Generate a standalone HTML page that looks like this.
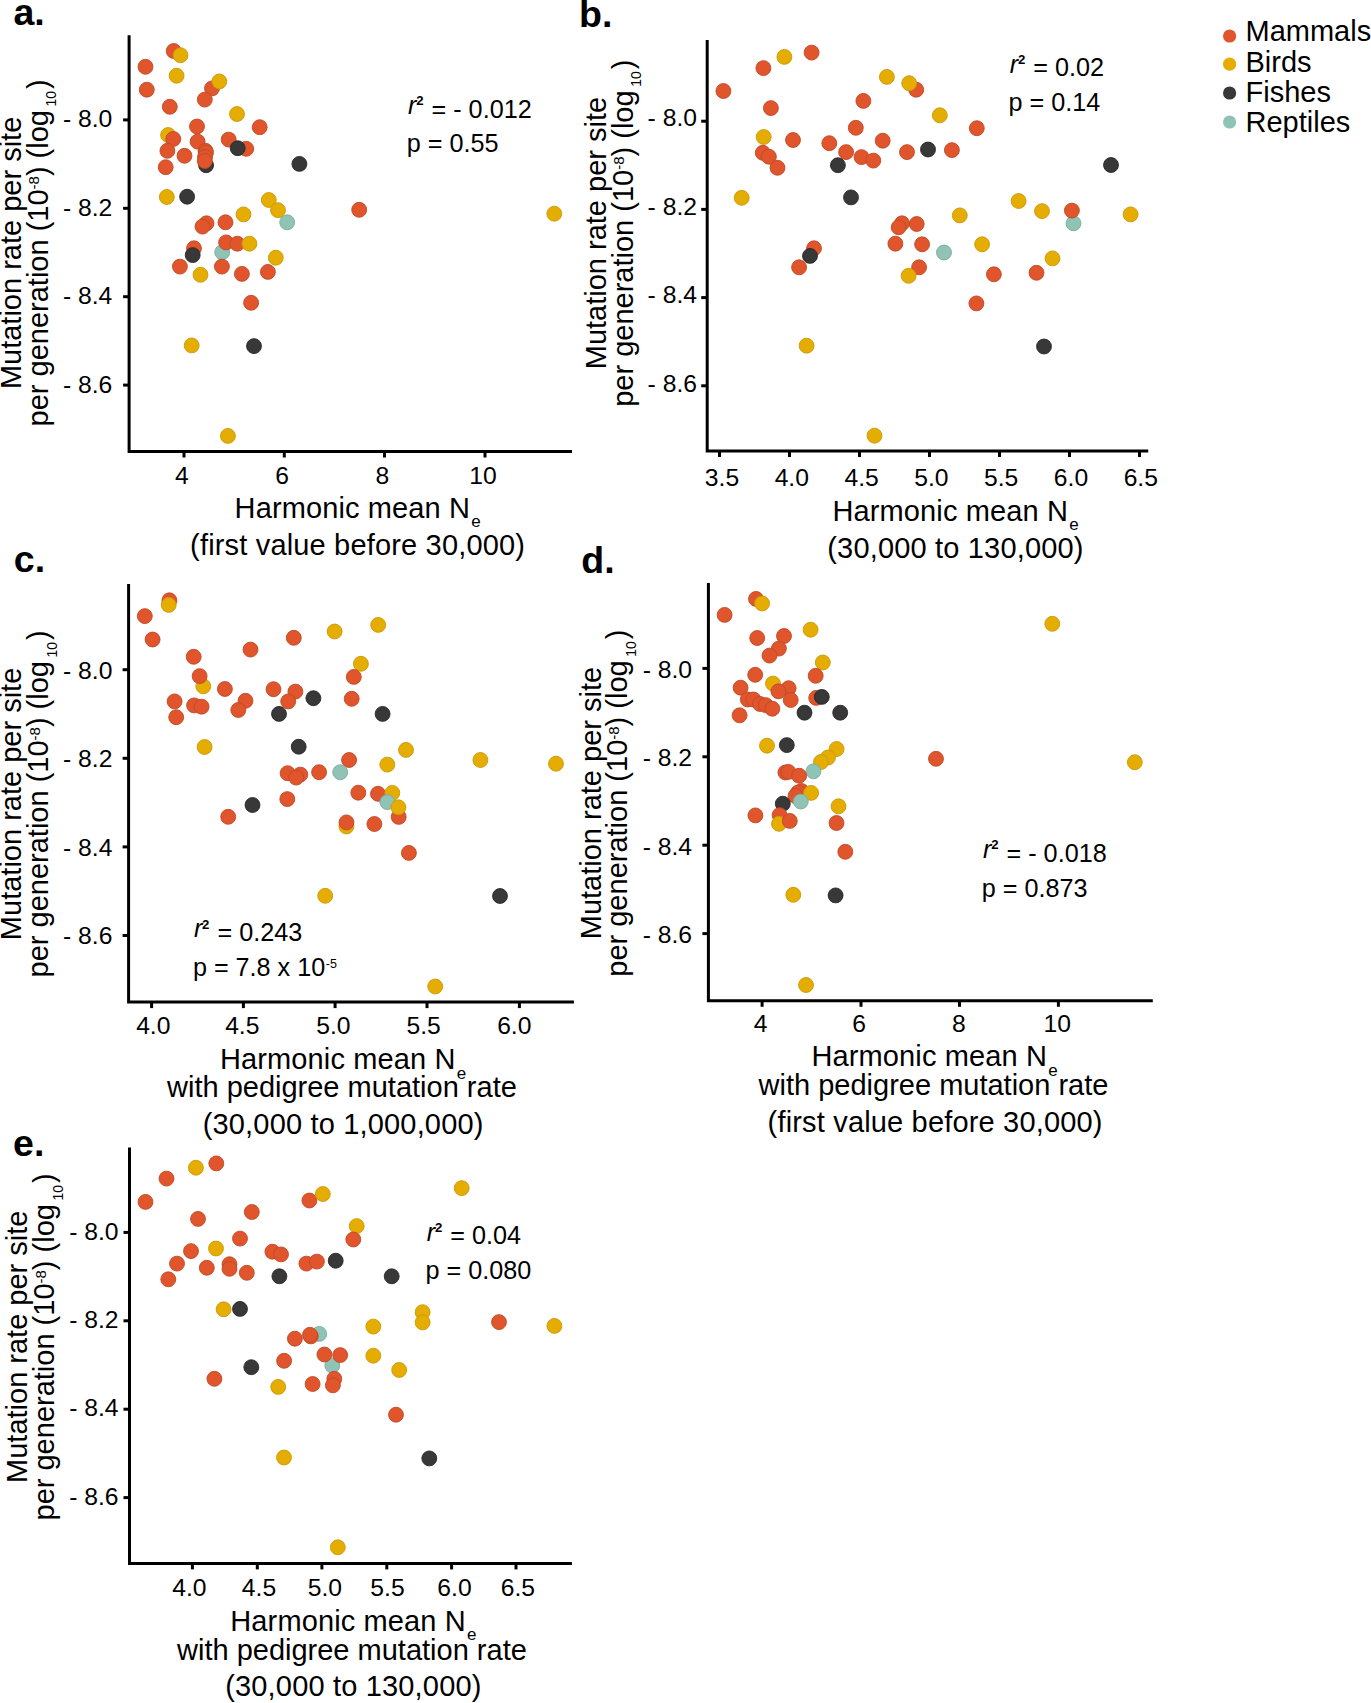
<!DOCTYPE html><html><head><meta charset="utf-8"><style>html,body{margin:0;padding:0;background:#fff;width:1371px;height:1703px;overflow:hidden}svg{display:block}text{font-family:"Liberation Sans",sans-serif;fill:#000}</style></head><body>
<svg width="1371" height="1703" viewBox="0 0 1371 1703">
<rect width="1371" height="1703" fill="#fff"/>
<circle cx="173.7" cy="51" r="7.45" fill="#e0552b" stroke="#c04827" stroke-width="0.9"/>
<circle cx="180.5" cy="55.2" r="7.45" fill="#e5ad02" stroke="#c99806" stroke-width="0.9"/>
<circle cx="145.5" cy="66.8" r="7.45" fill="#e0552b" stroke="#c04827" stroke-width="0.9"/>
<circle cx="176.6" cy="75.7" r="7.45" fill="#e5ad02" stroke="#c99806" stroke-width="0.9"/>
<circle cx="146.8" cy="89.7" r="7.45" fill="#e0552b" stroke="#c04827" stroke-width="0.9"/>
<circle cx="212" cy="88.4" r="7.45" fill="#e0552b" stroke="#c04827" stroke-width="0.9"/>
<circle cx="219.3" cy="81.5" r="7.45" fill="#e5ad02" stroke="#c99806" stroke-width="0.9"/>
<circle cx="204.8" cy="99.6" r="7.45" fill="#e0552b" stroke="#c04827" stroke-width="0.9"/>
<circle cx="169.8" cy="106.8" r="7.45" fill="#e0552b" stroke="#c04827" stroke-width="0.9"/>
<circle cx="237" cy="114" r="7.45" fill="#e5ad02" stroke="#c99806" stroke-width="0.9"/>
<circle cx="197" cy="126.5" r="7.45" fill="#e0552b" stroke="#c04827" stroke-width="0.9"/>
<circle cx="259.7" cy="127.2" r="7.45" fill="#e0552b" stroke="#c04827" stroke-width="0.9"/>
<circle cx="168.1" cy="135" r="7.45" fill="#e5ad02" stroke="#c99806" stroke-width="0.9"/>
<circle cx="173.3" cy="139" r="7.45" fill="#e0552b" stroke="#c04827" stroke-width="0.9"/>
<circle cx="167.4" cy="150.8" r="7.45" fill="#e0552b" stroke="#c04827" stroke-width="0.9"/>
<circle cx="184.5" cy="155.8" r="7.45" fill="#e0552b" stroke="#c04827" stroke-width="0.9"/>
<circle cx="165.7" cy="167.2" r="7.45" fill="#e0552b" stroke="#c04827" stroke-width="0.9"/>
<circle cx="197.6" cy="141.6" r="7.45" fill="#e0552b" stroke="#c04827" stroke-width="0.9"/>
<circle cx="206.1" cy="165.2" r="7.45" fill="#383838" stroke="#282828" stroke-width="0.9"/>
<circle cx="205.5" cy="150.8" r="7.45" fill="#e0552b" stroke="#c04827" stroke-width="0.9"/>
<circle cx="206" cy="152.5" r="7.45" fill="#e0552b" stroke="#c04827" stroke-width="0.9"/>
<circle cx="205" cy="157" r="7.45" fill="#e0552b" stroke="#c04827" stroke-width="0.9"/>
<circle cx="204.8" cy="161" r="7.45" fill="#e0552b" stroke="#c04827" stroke-width="0.9"/>
<circle cx="228.7" cy="139.6" r="7.45" fill="#e0552b" stroke="#c04827" stroke-width="0.9"/>
<circle cx="246.2" cy="148.8" r="7.45" fill="#e0552b" stroke="#c04827" stroke-width="0.9"/>
<circle cx="237.7" cy="148.2" r="7.45" fill="#383838" stroke="#282828" stroke-width="0.9"/>
<circle cx="299.4" cy="163.9" r="7.45" fill="#383838" stroke="#282828" stroke-width="0.9"/>
<circle cx="166.8" cy="197" r="7.45" fill="#e5ad02" stroke="#c99806" stroke-width="0.9"/>
<circle cx="187.1" cy="196.7" r="7.45" fill="#383838" stroke="#282828" stroke-width="0.9"/>
<circle cx="268.8" cy="200" r="7.45" fill="#e5ad02" stroke="#c99806" stroke-width="0.9"/>
<circle cx="278" cy="210.2" r="7.45" fill="#e5ad02" stroke="#c99806" stroke-width="0.9"/>
<circle cx="287.2" cy="222.3" r="7.45" fill="#8fc3b6" stroke="#78ab9e" stroke-width="0.9"/>
<circle cx="243.5" cy="214.4" r="7.45" fill="#e5ad02" stroke="#c99806" stroke-width="0.9"/>
<circle cx="206.5" cy="223.3" r="7.45" fill="#e0552b" stroke="#c04827" stroke-width="0.9"/>
<circle cx="202.5" cy="226.6" r="7.45" fill="#e0552b" stroke="#c04827" stroke-width="0.9"/>
<circle cx="225.5" cy="222.3" r="7.45" fill="#e0552b" stroke="#c04827" stroke-width="0.9"/>
<circle cx="222.2" cy="252.2" r="7.45" fill="#8fc3b6" stroke="#78ab9e" stroke-width="0.9"/>
<circle cx="226.1" cy="242.4" r="7.45" fill="#e0552b" stroke="#c04827" stroke-width="0.9"/>
<circle cx="237.3" cy="243.7" r="7.45" fill="#e0552b" stroke="#c04827" stroke-width="0.9"/>
<circle cx="249.4" cy="243.7" r="7.45" fill="#e5ad02" stroke="#c99806" stroke-width="0.9"/>
<circle cx="194" cy="248.3" r="7.45" fill="#e0552b" stroke="#c04827" stroke-width="0.9"/>
<circle cx="192.7" cy="255.1" r="7.45" fill="#383838" stroke="#282828" stroke-width="0.9"/>
<circle cx="179.9" cy="266.6" r="7.45" fill="#e0552b" stroke="#c04827" stroke-width="0.9"/>
<circle cx="200.5" cy="274.8" r="7.45" fill="#e5ad02" stroke="#c99806" stroke-width="0.9"/>
<circle cx="221.9" cy="266.6" r="7.45" fill="#e0552b" stroke="#c04827" stroke-width="0.9"/>
<circle cx="241.9" cy="273.9" r="7.45" fill="#e0552b" stroke="#c04827" stroke-width="0.9"/>
<circle cx="267.9" cy="271.9" r="7.45" fill="#e0552b" stroke="#c04827" stroke-width="0.9"/>
<circle cx="275.8" cy="257.7" r="7.45" fill="#e5ad02" stroke="#c99806" stroke-width="0.9"/>
<circle cx="251.1" cy="302.8" r="7.45" fill="#e0552b" stroke="#c04827" stroke-width="0.9"/>
<circle cx="191.7" cy="345.4" r="7.45" fill="#e5ad02" stroke="#c99806" stroke-width="0.9"/>
<circle cx="254" cy="346.1" r="7.45" fill="#383838" stroke="#282828" stroke-width="0.9"/>
<circle cx="227.9" cy="435.9" r="7.45" fill="#e5ad02" stroke="#c99806" stroke-width="0.9"/>
<circle cx="359.2" cy="209.8" r="7.45" fill="#e0552b" stroke="#c04827" stroke-width="0.9"/>
<circle cx="554.3" cy="213.7" r="7.45" fill="#e5ad02" stroke="#c99806" stroke-width="0.9"/>
<path d="M129.1 35.2V451.5H572" fill="none" stroke="#000" stroke-width="3" stroke-linejoin="miter" stroke-linecap="butt"/>
<line x1="123.1" y1="119.9" x2="129.1" y2="119.9" stroke="#000" stroke-width="3"/>
<text x="112.3" y="127.4" font-size="24.7" text-anchor="end">- 8.0</text>
<line x1="123.1" y1="208.3" x2="129.1" y2="208.3" stroke="#000" stroke-width="3"/>
<text x="112.3" y="215.8" font-size="24.7" text-anchor="end">- 8.2</text>
<line x1="123.1" y1="296.7" x2="129.1" y2="296.7" stroke="#000" stroke-width="3"/>
<text x="112.3" y="304.2" font-size="24.7" text-anchor="end">- 8.4</text>
<line x1="123.1" y1="385.1" x2="129.1" y2="385.1" stroke="#000" stroke-width="3"/>
<text x="112.3" y="392.6" font-size="24.7" text-anchor="end">- 8.6</text>
<line x1="184" y1="451.5" x2="184" y2="457.5" stroke="#000" stroke-width="3"/>
<text x="181.9" y="483.5" font-size="24.7" text-anchor="middle">4</text>
<line x1="284.3" y1="451.5" x2="284.3" y2="457.5" stroke="#000" stroke-width="3"/>
<text x="282.0" y="483.5" font-size="24.7" text-anchor="middle">6</text>
<line x1="384.5" y1="451.5" x2="384.5" y2="457.5" stroke="#000" stroke-width="3"/>
<text x="382.3" y="483.5" font-size="24.7" text-anchor="middle">8</text>
<line x1="485" y1="451.5" x2="485" y2="457.5" stroke="#000" stroke-width="3"/>
<text x="483.0" y="483.5" font-size="24.7" text-anchor="middle">10</text>
<text x="234.6" y="517.8" font-size="29" letter-spacing="0.12">Harmonic mean N<tspan font-size="17" dx="1.2" dy="9.6">e</tspan></text>
<text x="190.1" y="555.0" font-size="29" letter-spacing="0.17">(first value before 30,000)</text>
<text transform="translate(20.9,252.9) rotate(-90)" font-size="29" text-anchor="middle">Mutation rate per site</text>
<text transform="translate(47.9,252.85) rotate(-90)" font-size="29" text-anchor="middle">per generation (10<tspan font-size="15" dy="-8.5">-8</tspan><tspan dy="8.5">) (log</tspan><tspan font-size="14" dx="3.5" dy="8.5">10</tspan><tspan dx="2" dy="-8.5">)</tspan></text>
<text x="408.0" y="117.6" font-size="25.2"><tspan font-style="italic" dy="-3.6">r</tspan><tspan font-size="13.2" font-weight="bold" dx="-0.2" dy="-8.6">2</tspan><tspan dx="1.0" dy="12.2"> = - 0.012</tspan></text>
<text x="406.8" y="152.3" font-size="25.2">p = 0.55</text>
<text x="13.4" y="25.3" font-size="37.5" font-weight="bold">a.</text>
<circle cx="723.4" cy="91" r="7.45" fill="#e0552b" stroke="#c04827" stroke-width="0.9"/>
<circle cx="763.4" cy="68.1" r="7.45" fill="#e0552b" stroke="#c04827" stroke-width="0.9"/>
<circle cx="784.4" cy="56.9" r="7.45" fill="#e5ad02" stroke="#c99806" stroke-width="0.9"/>
<circle cx="811.6" cy="52.6" r="7.45" fill="#e0552b" stroke="#c04827" stroke-width="0.9"/>
<circle cx="770.9" cy="108.1" r="7.45" fill="#e0552b" stroke="#c04827" stroke-width="0.9"/>
<circle cx="863.4" cy="100.9" r="7.45" fill="#e0552b" stroke="#c04827" stroke-width="0.9"/>
<circle cx="855.8" cy="127.8" r="7.45" fill="#e0552b" stroke="#c04827" stroke-width="0.9"/>
<circle cx="763.7" cy="137" r="7.45" fill="#e5ad02" stroke="#c99806" stroke-width="0.9"/>
<circle cx="793" cy="140" r="7.45" fill="#e0552b" stroke="#c04827" stroke-width="0.9"/>
<circle cx="829.3" cy="143.2" r="7.45" fill="#e0552b" stroke="#c04827" stroke-width="0.9"/>
<circle cx="846.1" cy="152.1" r="7.45" fill="#e0552b" stroke="#c04827" stroke-width="0.9"/>
<circle cx="861.5" cy="157.1" r="7.45" fill="#e0552b" stroke="#c04827" stroke-width="0.9"/>
<circle cx="873.3" cy="160.6" r="7.45" fill="#e0552b" stroke="#c04827" stroke-width="0.9"/>
<circle cx="762.8" cy="152.8" r="7.45" fill="#e0552b" stroke="#c04827" stroke-width="0.9"/>
<circle cx="768.9" cy="156.7" r="7.45" fill="#e0552b" stroke="#c04827" stroke-width="0.9"/>
<circle cx="777.5" cy="167.8" r="7.45" fill="#e0552b" stroke="#c04827" stroke-width="0.9"/>
<circle cx="837.9" cy="165.2" r="7.45" fill="#383838" stroke="#282828" stroke-width="0.9"/>
<circle cx="741.7" cy="197.8" r="7.45" fill="#e5ad02" stroke="#c99806" stroke-width="0.9"/>
<circle cx="851" cy="197.4" r="7.45" fill="#383838" stroke="#282828" stroke-width="0.9"/>
<circle cx="886.9" cy="76.9" r="7.45" fill="#e5ad02" stroke="#c99806" stroke-width="0.9"/>
<circle cx="916.2" cy="89.7" r="7.45" fill="#e0552b" stroke="#c04827" stroke-width="0.9"/>
<circle cx="909.2" cy="83.2" r="7.45" fill="#e5ad02" stroke="#c99806" stroke-width="0.9"/>
<circle cx="939.8" cy="115.3" r="7.45" fill="#e5ad02" stroke="#c99806" stroke-width="0.9"/>
<circle cx="976.8" cy="128.2" r="7.45" fill="#e0552b" stroke="#c04827" stroke-width="0.9"/>
<circle cx="882.7" cy="140.7" r="7.45" fill="#e0552b" stroke="#c04827" stroke-width="0.9"/>
<circle cx="907" cy="152.1" r="7.45" fill="#e0552b" stroke="#c04827" stroke-width="0.9"/>
<circle cx="928" cy="149.5" r="7.45" fill="#383838" stroke="#282828" stroke-width="0.9"/>
<circle cx="951.9" cy="150.1" r="7.45" fill="#e0552b" stroke="#c04827" stroke-width="0.9"/>
<circle cx="1111" cy="165" r="7.45" fill="#383838" stroke="#282828" stroke-width="0.9"/>
<circle cx="1018.6" cy="201" r="7.45" fill="#e5ad02" stroke="#c99806" stroke-width="0.9"/>
<circle cx="1042" cy="211.1" r="7.45" fill="#e5ad02" stroke="#c99806" stroke-width="0.9"/>
<circle cx="1073.5" cy="223.3" r="7.45" fill="#8fc3b6" stroke="#78ab9e" stroke-width="0.9"/>
<circle cx="1071.9" cy="210.6" r="7.45" fill="#e0552b" stroke="#c04827" stroke-width="0.9"/>
<circle cx="1130.6" cy="214.4" r="7.45" fill="#e5ad02" stroke="#c99806" stroke-width="0.9"/>
<circle cx="1052.5" cy="258.4" r="7.45" fill="#e5ad02" stroke="#c99806" stroke-width="0.9"/>
<circle cx="1036.5" cy="272.8" r="7.45" fill="#e0552b" stroke="#c04827" stroke-width="0.9"/>
<circle cx="1044" cy="346.5" r="7.45" fill="#383838" stroke="#282828" stroke-width="0.9"/>
<circle cx="814" cy="248.3" r="7.45" fill="#e0552b" stroke="#c04827" stroke-width="0.9"/>
<circle cx="810" cy="255.9" r="7.45" fill="#383838" stroke="#282828" stroke-width="0.9"/>
<circle cx="799.1" cy="267.3" r="7.45" fill="#e0552b" stroke="#c04827" stroke-width="0.9"/>
<circle cx="806.6" cy="345.7" r="7.45" fill="#e5ad02" stroke="#c99806" stroke-width="0.9"/>
<circle cx="902" cy="223.3" r="7.45" fill="#e0552b" stroke="#c04827" stroke-width="0.9"/>
<circle cx="898.7" cy="227.3" r="7.45" fill="#e0552b" stroke="#c04827" stroke-width="0.9"/>
<circle cx="916.7" cy="224" r="7.45" fill="#e0552b" stroke="#c04827" stroke-width="0.9"/>
<circle cx="895.4" cy="243.7" r="7.45" fill="#e0552b" stroke="#c04827" stroke-width="0.9"/>
<circle cx="922.1" cy="244.3" r="7.45" fill="#e0552b" stroke="#c04827" stroke-width="0.9"/>
<circle cx="944" cy="252.5" r="7.45" fill="#8fc3b6" stroke="#78ab9e" stroke-width="0.9"/>
<circle cx="919.1" cy="267.3" r="7.45" fill="#e0552b" stroke="#c04827" stroke-width="0.9"/>
<circle cx="908.6" cy="275.8" r="7.45" fill="#e5ad02" stroke="#c99806" stroke-width="0.9"/>
<circle cx="959.8" cy="215.4" r="7.45" fill="#e5ad02" stroke="#c99806" stroke-width="0.9"/>
<circle cx="982.1" cy="244.3" r="7.45" fill="#e5ad02" stroke="#c99806" stroke-width="0.9"/>
<circle cx="993.9" cy="274.3" r="7.45" fill="#e0552b" stroke="#c04827" stroke-width="0.9"/>
<circle cx="976.4" cy="303.4" r="7.45" fill="#e0552b" stroke="#c04827" stroke-width="0.9"/>
<circle cx="874.5" cy="435.7" r="7.45" fill="#e5ad02" stroke="#c99806" stroke-width="0.9"/>
<path d="M707.2 39.9V451.0H1148.2" fill="none" stroke="#000" stroke-width="3" stroke-linejoin="miter" stroke-linecap="butt"/>
<line x1="701.2" y1="121.2" x2="707.2" y2="121.2" stroke="#000" stroke-width="3"/>
<text x="697" y="126.3" font-size="24.7" text-anchor="end">- 8.0</text>
<line x1="701.2" y1="209.4" x2="707.2" y2="209.4" stroke="#000" stroke-width="3"/>
<text x="697" y="214.7" font-size="24.7" text-anchor="end">- 8.2</text>
<line x1="701.2" y1="297.6" x2="707.2" y2="297.6" stroke="#000" stroke-width="3"/>
<text x="697" y="303.1" font-size="24.7" text-anchor="end">- 8.4</text>
<line x1="701.2" y1="385.8" x2="707.2" y2="385.8" stroke="#000" stroke-width="3"/>
<text x="697" y="391.5" font-size="24.7" text-anchor="end">- 8.6</text>
<line x1="719.5" y1="451.0" x2="719.5" y2="457.0" stroke="#000" stroke-width="3"/>
<text x="722.0" y="485.6" font-size="24.7" text-anchor="middle">3.5</text>
<line x1="789.5" y1="451.0" x2="789.5" y2="457.0" stroke="#000" stroke-width="3"/>
<text x="791.8" y="485.6" font-size="24.7" text-anchor="middle">4.0</text>
<line x1="859.5" y1="451.0" x2="859.5" y2="457.0" stroke="#000" stroke-width="3"/>
<text x="861.6" y="485.6" font-size="24.7" text-anchor="middle">4.5</text>
<line x1="929.5" y1="451.0" x2="929.5" y2="457.0" stroke="#000" stroke-width="3"/>
<text x="931.4" y="485.6" font-size="24.7" text-anchor="middle">5.0</text>
<line x1="999.5" y1="451.0" x2="999.5" y2="457.0" stroke="#000" stroke-width="3"/>
<text x="1001.2" y="485.6" font-size="24.7" text-anchor="middle">5.5</text>
<line x1="1069.5" y1="451.0" x2="1069.5" y2="457.0" stroke="#000" stroke-width="3"/>
<text x="1071.0" y="485.6" font-size="24.7" text-anchor="middle">6.0</text>
<line x1="1139.5" y1="451.0" x2="1139.5" y2="457.0" stroke="#000" stroke-width="3"/>
<text x="1140.8" y="485.6" font-size="24.7" text-anchor="middle">6.5</text>
<text x="832.5" y="520.5" font-size="29" letter-spacing="0.12">Harmonic mean N<tspan font-size="17" dx="1.2" dy="9.6">e</tspan></text>
<text x="827.3" y="558" font-size="29" letter-spacing="0.17">(30,000 to 130,000)</text>
<text transform="translate(605.5,233.05) rotate(-90)" font-size="29" text-anchor="middle">Mutation rate per site</text>
<text transform="translate(632.5,233.2) rotate(-90)" font-size="29" text-anchor="middle">per generation (10<tspan font-size="15" dy="-8.5">-8</tspan><tspan dy="8.5">) (log</tspan><tspan font-size="14" dx="3.5" dy="8.5">10</tspan><tspan dx="2" dy="-8.5">)</tspan></text>
<text x="1009.7" y="76.2" font-size="25.2"><tspan font-style="italic" dy="-3.6">r</tspan><tspan font-size="13.2" font-weight="bold" dx="-0.2" dy="-8.6">2</tspan><tspan dx="1.0" dy="12.2"> = 0.02</tspan></text>
<text x="1008.6" y="110.8" font-size="25.2">p = 0.14</text>
<text x="579.1" y="26.5" font-size="37.5" font-weight="bold">b.</text>
<circle cx="169.4" cy="600.3" r="7.45" fill="#e0552b" stroke="#c04827" stroke-width="0.9"/>
<circle cx="168.7" cy="604.9" r="7.45" fill="#e5ad02" stroke="#c99806" stroke-width="0.9"/>
<circle cx="144.8" cy="616.1" r="7.45" fill="#e0552b" stroke="#c04827" stroke-width="0.9"/>
<circle cx="152.6" cy="639.5" r="7.45" fill="#e0552b" stroke="#c04827" stroke-width="0.9"/>
<circle cx="193.7" cy="656.8" r="7.45" fill="#e0552b" stroke="#c04827" stroke-width="0.9"/>
<circle cx="250.5" cy="649.6" r="7.45" fill="#e0552b" stroke="#c04827" stroke-width="0.9"/>
<circle cx="293.8" cy="637.8" r="7.45" fill="#e0552b" stroke="#c04827" stroke-width="0.9"/>
<circle cx="203.3" cy="686.3" r="7.45" fill="#e5ad02" stroke="#c99806" stroke-width="0.9"/>
<circle cx="199.6" cy="676.1" r="7.45" fill="#e0552b" stroke="#c04827" stroke-width="0.9"/>
<circle cx="224.9" cy="689" r="7.45" fill="#e0552b" stroke="#c04827" stroke-width="0.9"/>
<circle cx="174.6" cy="701.4" r="7.45" fill="#e0552b" stroke="#c04827" stroke-width="0.9"/>
<circle cx="176.2" cy="717.2" r="7.45" fill="#e0552b" stroke="#c04827" stroke-width="0.9"/>
<circle cx="194.1" cy="705.4" r="7.45" fill="#e0552b" stroke="#c04827" stroke-width="0.9"/>
<circle cx="201.6" cy="706.7" r="7.45" fill="#e0552b" stroke="#c04827" stroke-width="0.9"/>
<circle cx="245.5" cy="700.8" r="7.45" fill="#e0552b" stroke="#c04827" stroke-width="0.9"/>
<circle cx="238.3" cy="710" r="7.45" fill="#e0552b" stroke="#c04827" stroke-width="0.9"/>
<circle cx="273.5" cy="689.2" r="7.45" fill="#e0552b" stroke="#c04827" stroke-width="0.9"/>
<circle cx="295.4" cy="691.6" r="7.45" fill="#e0552b" stroke="#c04827" stroke-width="0.9"/>
<circle cx="288.2" cy="701.4" r="7.45" fill="#e0552b" stroke="#c04827" stroke-width="0.9"/>
<circle cx="279" cy="713.9" r="7.45" fill="#383838" stroke="#282828" stroke-width="0.9"/>
<circle cx="204.6" cy="747" r="7.45" fill="#e5ad02" stroke="#c99806" stroke-width="0.9"/>
<circle cx="298.7" cy="746.7" r="7.45" fill="#383838" stroke="#282828" stroke-width="0.9"/>
<circle cx="334.6" cy="631.5" r="7.45" fill="#e5ad02" stroke="#c99806" stroke-width="0.9"/>
<circle cx="378.2" cy="624.9" r="7.45" fill="#e5ad02" stroke="#c99806" stroke-width="0.9"/>
<circle cx="360.9" cy="663.8" r="7.45" fill="#e5ad02" stroke="#c99806" stroke-width="0.9"/>
<circle cx="353.8" cy="676.9" r="7.45" fill="#e0552b" stroke="#c04827" stroke-width="0.9"/>
<circle cx="351.7" cy="698.8" r="7.45" fill="#e0552b" stroke="#c04827" stroke-width="0.9"/>
<circle cx="313.4" cy="698.2" r="7.45" fill="#383838" stroke="#282828" stroke-width="0.9"/>
<circle cx="382.6" cy="713.9" r="7.45" fill="#383838" stroke="#282828" stroke-width="0.9"/>
<circle cx="349.1" cy="760" r="7.45" fill="#e0552b" stroke="#c04827" stroke-width="0.9"/>
<circle cx="340.2" cy="772.2" r="7.45" fill="#8fc3b6" stroke="#78ab9e" stroke-width="0.9"/>
<circle cx="287.6" cy="773.2" r="7.45" fill="#e0552b" stroke="#c04827" stroke-width="0.9"/>
<circle cx="300.3" cy="774.6" r="7.45" fill="#e0552b" stroke="#c04827" stroke-width="0.9"/>
<circle cx="296.2" cy="777.6" r="7.45" fill="#e0552b" stroke="#c04827" stroke-width="0.9"/>
<circle cx="319.1" cy="772.2" r="7.45" fill="#e0552b" stroke="#c04827" stroke-width="0.9"/>
<circle cx="287.3" cy="799.1" r="7.45" fill="#e0552b" stroke="#c04827" stroke-width="0.9"/>
<circle cx="252.5" cy="805" r="7.45" fill="#383838" stroke="#282828" stroke-width="0.9"/>
<circle cx="228.2" cy="816.8" r="7.45" fill="#e0552b" stroke="#c04827" stroke-width="0.9"/>
<circle cx="358.3" cy="792.7" r="7.45" fill="#e0552b" stroke="#c04827" stroke-width="0.9"/>
<circle cx="378" cy="793.8" r="7.45" fill="#e0552b" stroke="#c04827" stroke-width="0.9"/>
<circle cx="392.3" cy="792.9" r="7.45" fill="#e5ad02" stroke="#c99806" stroke-width="0.9"/>
<circle cx="387.3" cy="802.1" r="7.45" fill="#8fc3b6" stroke="#78ab9e" stroke-width="0.9"/>
<circle cx="398.7" cy="816.9" r="7.45" fill="#e0552b" stroke="#c04827" stroke-width="0.9"/>
<circle cx="398.4" cy="807.3" r="7.45" fill="#e5ad02" stroke="#c99806" stroke-width="0.9"/>
<circle cx="346.4" cy="826.5" r="7.45" fill="#e5ad02" stroke="#c99806" stroke-width="0.9"/>
<circle cx="346.5" cy="822.4" r="7.45" fill="#e0552b" stroke="#c04827" stroke-width="0.9"/>
<circle cx="374.4" cy="824" r="7.45" fill="#e0552b" stroke="#c04827" stroke-width="0.9"/>
<circle cx="408.9" cy="852.9" r="7.45" fill="#e0552b" stroke="#c04827" stroke-width="0.9"/>
<circle cx="406" cy="749.9" r="7.45" fill="#e5ad02" stroke="#c99806" stroke-width="0.9"/>
<circle cx="387.3" cy="764.6" r="7.45" fill="#e5ad02" stroke="#c99806" stroke-width="0.9"/>
<circle cx="480.4" cy="760" r="7.45" fill="#e5ad02" stroke="#c99806" stroke-width="0.9"/>
<circle cx="556" cy="763.7" r="7.45" fill="#e5ad02" stroke="#c99806" stroke-width="0.9"/>
<circle cx="325.2" cy="895.8" r="7.45" fill="#e5ad02" stroke="#c99806" stroke-width="0.9"/>
<circle cx="500" cy="896" r="7.45" fill="#383838" stroke="#282828" stroke-width="0.9"/>
<circle cx="435.2" cy="986.5" r="7.45" fill="#e5ad02" stroke="#c99806" stroke-width="0.9"/>
<path d="M128.6 583.9V1002.1H573.9" fill="none" stroke="#000" stroke-width="3" stroke-linejoin="miter" stroke-linecap="butt"/>
<line x1="122.6" y1="669.7" x2="128.6" y2="669.7" stroke="#000" stroke-width="3"/>
<text x="112.4" y="678.9" font-size="24.7" text-anchor="end">- 8.0</text>
<line x1="122.6" y1="758.3" x2="128.6" y2="758.3" stroke="#000" stroke-width="3"/>
<text x="112.4" y="767.3" font-size="24.7" text-anchor="end">- 8.2</text>
<line x1="122.6" y1="846.9" x2="128.6" y2="846.9" stroke="#000" stroke-width="3"/>
<text x="112.4" y="855.7" font-size="24.7" text-anchor="end">- 8.4</text>
<line x1="122.6" y1="935.5" x2="128.6" y2="935.5" stroke="#000" stroke-width="3"/>
<text x="112.4" y="944.1" font-size="24.7" text-anchor="end">- 8.6</text>
<line x1="151.6" y1="1002.1" x2="151.6" y2="1008.1" stroke="#000" stroke-width="3"/>
<text x="153.3" y="1033.9" font-size="24.7" text-anchor="middle">4.0</text>
<line x1="243.4" y1="1002.1" x2="243.4" y2="1008.1" stroke="#000" stroke-width="3"/>
<text x="242.3" y="1033.9" font-size="24.7" text-anchor="middle">4.5</text>
<line x1="335.1" y1="1002.1" x2="335.1" y2="1008.1" stroke="#000" stroke-width="3"/>
<text x="333.4" y="1033.9" font-size="24.7" text-anchor="middle">5.0</text>
<line x1="427" y1="1002.1" x2="427" y2="1008.1" stroke="#000" stroke-width="3"/>
<text x="423.7" y="1033.9" font-size="24.7" text-anchor="middle">5.5</text>
<line x1="519.4" y1="1002.1" x2="519.4" y2="1008.1" stroke="#000" stroke-width="3"/>
<text x="514.3" y="1033.9" font-size="24.7" text-anchor="middle">6.0</text>
<text x="220.0" y="1069.1" font-size="29" letter-spacing="0.12">Harmonic mean N<tspan font-size="17" dx="1.2" dy="9.6">e</tspan></text>
<text x="167.0" y="1096.8" font-size="29">with pedigree mutation rate</text>
<text x="202.7" y="1134.2" font-size="29" letter-spacing="0.17">(30,000 to 1,000,000)</text>
<text transform="translate(20.9,803.95) rotate(-90)" font-size="29" text-anchor="middle">Mutation rate per site</text>
<text transform="translate(48.0,803.85) rotate(-90)" font-size="29" text-anchor="middle">per generation (10<tspan font-size="15" dy="-8.5">-8</tspan><tspan dy="8.5">) (log</tspan><tspan font-size="14" dx="3.5" dy="8.5">10</tspan><tspan dx="2" dy="-8.5">)</tspan></text>
<text x="193.9" y="941.0" font-size="25.2"><tspan font-style="italic" dy="-3.6">r</tspan><tspan font-size="13.2" font-weight="bold" dx="-0.2" dy="-8.6">2</tspan><tspan dx="1.0" dy="12.2"> = 0.243</tspan></text>
<text x="192.9" y="975.9" font-size="25.2">p = 7.8 x 10<tspan font-size="12.5" dx="0.5" dy="-8.2">-5</tspan></text>
<text x="13.8" y="572.3" font-size="37.5" font-weight="bold">c.</text>
<circle cx="756" cy="598.9" r="7.45" fill="#e0552b" stroke="#c04827" stroke-width="0.9"/>
<circle cx="762.1" cy="603.5" r="7.45" fill="#e5ad02" stroke="#c99806" stroke-width="0.9"/>
<circle cx="724.6" cy="614.9" r="7.45" fill="#e0552b" stroke="#c04827" stroke-width="0.9"/>
<circle cx="1052.3" cy="623.8" r="7.45" fill="#e5ad02" stroke="#c99806" stroke-width="0.9"/>
<circle cx="810.6" cy="629.7" r="7.45" fill="#e5ad02" stroke="#c99806" stroke-width="0.9"/>
<circle cx="784" cy="636" r="7.45" fill="#e0552b" stroke="#c04827" stroke-width="0.9"/>
<circle cx="757.2" cy="638" r="7.45" fill="#e0552b" stroke="#c04827" stroke-width="0.9"/>
<circle cx="778.9" cy="648.6" r="7.45" fill="#e0552b" stroke="#c04827" stroke-width="0.9"/>
<circle cx="769.5" cy="655.6" r="7.45" fill="#e0552b" stroke="#c04827" stroke-width="0.9"/>
<circle cx="822.8" cy="662.5" r="7.45" fill="#e5ad02" stroke="#c99806" stroke-width="0.9"/>
<circle cx="755.2" cy="674.8" r="7.45" fill="#e0552b" stroke="#c04827" stroke-width="0.9"/>
<circle cx="815.7" cy="675.8" r="7.45" fill="#e0552b" stroke="#c04827" stroke-width="0.9"/>
<circle cx="773" cy="683.6" r="7.45" fill="#e5ad02" stroke="#c99806" stroke-width="0.9"/>
<circle cx="740.6" cy="687.7" r="7.45" fill="#e0552b" stroke="#c04827" stroke-width="0.9"/>
<circle cx="788.6" cy="688.2" r="7.45" fill="#e0552b" stroke="#c04827" stroke-width="0.9"/>
<circle cx="778.4" cy="691.3" r="7.45" fill="#e0552b" stroke="#c04827" stroke-width="0.9"/>
<circle cx="816.2" cy="697.9" r="7.45" fill="#e0552b" stroke="#c04827" stroke-width="0.9"/>
<circle cx="821.8" cy="696.9" r="7.45" fill="#383838" stroke="#282828" stroke-width="0.9"/>
<circle cx="747.8" cy="699.5" r="7.45" fill="#e0552b" stroke="#c04827" stroke-width="0.9"/>
<circle cx="753.4" cy="699.5" r="7.45" fill="#e0552b" stroke="#c04827" stroke-width="0.9"/>
<circle cx="790.7" cy="700" r="7.45" fill="#e0552b" stroke="#c04827" stroke-width="0.9"/>
<circle cx="760" cy="704" r="7.45" fill="#e0552b" stroke="#c04827" stroke-width="0.9"/>
<circle cx="765.7" cy="705.1" r="7.45" fill="#e0552b" stroke="#c04827" stroke-width="0.9"/>
<circle cx="772.3" cy="708.7" r="7.45" fill="#e0552b" stroke="#c04827" stroke-width="0.9"/>
<circle cx="804.5" cy="712.7" r="7.45" fill="#383838" stroke="#282828" stroke-width="0.9"/>
<circle cx="840.2" cy="712.7" r="7.45" fill="#383838" stroke="#282828" stroke-width="0.9"/>
<circle cx="739.6" cy="715.3" r="7.45" fill="#e0552b" stroke="#c04827" stroke-width="0.9"/>
<circle cx="767" cy="745.7" r="7.45" fill="#e5ad02" stroke="#c99806" stroke-width="0.9"/>
<circle cx="786.8" cy="745.1" r="7.45" fill="#383838" stroke="#282828" stroke-width="0.9"/>
<circle cx="836.6" cy="749" r="7.45" fill="#e5ad02" stroke="#c99806" stroke-width="0.9"/>
<circle cx="828" cy="757.5" r="7.45" fill="#e5ad02" stroke="#c99806" stroke-width="0.9"/>
<circle cx="821" cy="762" r="7.45" fill="#e5ad02" stroke="#c99806" stroke-width="0.9"/>
<circle cx="936" cy="758.8" r="7.45" fill="#e0552b" stroke="#c04827" stroke-width="0.9"/>
<circle cx="1134.8" cy="762.2" r="7.45" fill="#e5ad02" stroke="#c99806" stroke-width="0.9"/>
<circle cx="813.4" cy="771.3" r="7.45" fill="#8fc3b6" stroke="#78ab9e" stroke-width="0.9"/>
<circle cx="785.4" cy="772.5" r="7.45" fill="#e0552b" stroke="#c04827" stroke-width="0.9"/>
<circle cx="788.3" cy="771.9" r="7.45" fill="#e0552b" stroke="#c04827" stroke-width="0.9"/>
<circle cx="799.1" cy="775.7" r="7.45" fill="#e0552b" stroke="#c04827" stroke-width="0.9"/>
<circle cx="801.5" cy="791" r="7.45" fill="#e0552b" stroke="#c04827" stroke-width="0.9"/>
<circle cx="798" cy="792.5" r="7.45" fill="#e0552b" stroke="#c04827" stroke-width="0.9"/>
<circle cx="795.5" cy="796" r="7.45" fill="#e0552b" stroke="#c04827" stroke-width="0.9"/>
<circle cx="811.1" cy="792.9" r="7.45" fill="#e5ad02" stroke="#c99806" stroke-width="0.9"/>
<circle cx="800.8" cy="801.5" r="7.45" fill="#8fc3b6" stroke="#78ab9e" stroke-width="0.9"/>
<circle cx="782.8" cy="803.7" r="7.45" fill="#383838" stroke="#282828" stroke-width="0.9"/>
<circle cx="838.5" cy="806.3" r="7.45" fill="#e5ad02" stroke="#c99806" stroke-width="0.9"/>
<circle cx="779.6" cy="815.1" r="7.45" fill="#e0552b" stroke="#c04827" stroke-width="0.9"/>
<circle cx="755.4" cy="815.4" r="7.45" fill="#e0552b" stroke="#c04827" stroke-width="0.9"/>
<circle cx="779" cy="823.8" r="7.45" fill="#e5ad02" stroke="#c99806" stroke-width="0.9"/>
<circle cx="789.8" cy="820.9" r="7.45" fill="#e0552b" stroke="#c04827" stroke-width="0.9"/>
<circle cx="836.5" cy="823" r="7.45" fill="#e0552b" stroke="#c04827" stroke-width="0.9"/>
<circle cx="845.3" cy="851.8" r="7.45" fill="#e0552b" stroke="#c04827" stroke-width="0.9"/>
<circle cx="793.3" cy="894.8" r="7.45" fill="#e5ad02" stroke="#c99806" stroke-width="0.9"/>
<circle cx="835.6" cy="895.4" r="7.45" fill="#383838" stroke="#282828" stroke-width="0.9"/>
<circle cx="806" cy="985" r="7.45" fill="#e5ad02" stroke="#c99806" stroke-width="0.9"/>
<path d="M708.4 583.1V1000.8H1152.8" fill="none" stroke="#000" stroke-width="3" stroke-linejoin="miter" stroke-linecap="butt"/>
<line x1="702.4" y1="668.4" x2="708.4" y2="668.4" stroke="#000" stroke-width="3"/>
<text x="692.1" y="677.9" font-size="24.7" text-anchor="end">- 8.0</text>
<line x1="702.4" y1="756.8" x2="708.4" y2="756.8" stroke="#000" stroke-width="3"/>
<text x="692.1" y="766.3" font-size="24.7" text-anchor="end">- 8.2</text>
<line x1="702.4" y1="845.2" x2="708.4" y2="845.2" stroke="#000" stroke-width="3"/>
<text x="692.1" y="854.7" font-size="24.7" text-anchor="end">- 8.4</text>
<line x1="702.4" y1="933.6" x2="708.4" y2="933.6" stroke="#000" stroke-width="3"/>
<text x="692.1" y="943.1" font-size="24.7" text-anchor="end">- 8.6</text>
<line x1="762.1" y1="1000.8" x2="762.1" y2="1006.8" stroke="#000" stroke-width="3"/>
<text x="760.7" y="1032.2" font-size="24.7" text-anchor="middle">4</text>
<line x1="861" y1="1000.8" x2="861" y2="1006.8" stroke="#000" stroke-width="3"/>
<text x="859.2" y="1032.2" font-size="24.7" text-anchor="middle">6</text>
<line x1="959.5" y1="1000.8" x2="959.5" y2="1006.8" stroke="#000" stroke-width="3"/>
<text x="958.9" y="1032.2" font-size="24.7" text-anchor="middle">8</text>
<line x1="1058.4" y1="1000.8" x2="1058.4" y2="1006.8" stroke="#000" stroke-width="3"/>
<text x="1057.3" y="1032.2" font-size="24.7" text-anchor="middle">10</text>
<text x="811.5" y="1066.3" font-size="29" letter-spacing="0.12">Harmonic mean N<tspan font-size="17" dx="1.2" dy="9.6">e</tspan></text>
<text x="758.6" y="1094.6" font-size="29">with pedigree mutation rate</text>
<text x="767.6" y="1132.0" font-size="29" letter-spacing="0.17">(first value before 30,000)</text>
<text transform="translate(600.5,803.05) rotate(-90)" font-size="29" text-anchor="middle">Mutation rate per site</text>
<text transform="translate(627.4,803.15) rotate(-90)" font-size="29" text-anchor="middle">per generation (10<tspan font-size="15" dy="-8.5">-8</tspan><tspan dy="8.5">) (log</tspan><tspan font-size="14" dx="3.5" dy="8.5">10</tspan><tspan dx="2" dy="-8.5">)</tspan></text>
<text x="983.0" y="861.5" font-size="25.2"><tspan font-style="italic" dy="-3.6">r</tspan><tspan font-size="13.2" font-weight="bold" dx="-0.2" dy="-8.6">2</tspan><tspan dx="1.0" dy="12.2"> = - 0.018</tspan></text>
<text x="981.8" y="896.5" font-size="25.2">p = 0.873</text>
<text x="581.3" y="572.5" font-size="37.5" font-weight="bold">d.</text>
<circle cx="195.9" cy="1167.7" r="7.45" fill="#e5ad02" stroke="#c99806" stroke-width="0.9"/>
<circle cx="216.3" cy="1163.4" r="7.45" fill="#e0552b" stroke="#c04827" stroke-width="0.9"/>
<circle cx="166.5" cy="1178.6" r="7.45" fill="#e0552b" stroke="#c04827" stroke-width="0.9"/>
<circle cx="145.5" cy="1201.9" r="7.45" fill="#e0552b" stroke="#c04827" stroke-width="0.9"/>
<circle cx="198" cy="1218.9" r="7.45" fill="#e0552b" stroke="#c04827" stroke-width="0.9"/>
<circle cx="251.8" cy="1212" r="7.45" fill="#e0552b" stroke="#c04827" stroke-width="0.9"/>
<circle cx="240" cy="1238.6" r="7.45" fill="#e0552b" stroke="#c04827" stroke-width="0.9"/>
<circle cx="216" cy="1248.5" r="7.45" fill="#e5ad02" stroke="#c99806" stroke-width="0.9"/>
<circle cx="191" cy="1251.1" r="7.45" fill="#e0552b" stroke="#c04827" stroke-width="0.9"/>
<circle cx="177" cy="1263.6" r="7.45" fill="#e0552b" stroke="#c04827" stroke-width="0.9"/>
<circle cx="168.3" cy="1279.3" r="7.45" fill="#e0552b" stroke="#c04827" stroke-width="0.9"/>
<circle cx="206.8" cy="1267.8" r="7.45" fill="#e0552b" stroke="#c04827" stroke-width="0.9"/>
<circle cx="229.5" cy="1264.2" r="7.45" fill="#e0552b" stroke="#c04827" stroke-width="0.9"/>
<circle cx="229.5" cy="1268.8" r="7.45" fill="#e0552b" stroke="#c04827" stroke-width="0.9"/>
<circle cx="246.8" cy="1272.8" r="7.45" fill="#e0552b" stroke="#c04827" stroke-width="0.9"/>
<circle cx="272.4" cy="1251.7" r="7.45" fill="#e0552b" stroke="#c04827" stroke-width="0.9"/>
<circle cx="281" cy="1254.4" r="7.45" fill="#e0552b" stroke="#c04827" stroke-width="0.9"/>
<circle cx="279.4" cy="1276.3" r="7.45" fill="#383838" stroke="#282828" stroke-width="0.9"/>
<circle cx="223.6" cy="1309.3" r="7.45" fill="#e5ad02" stroke="#c99806" stroke-width="0.9"/>
<circle cx="240" cy="1308.9" r="7.45" fill="#383838" stroke="#282828" stroke-width="0.9"/>
<circle cx="309.4" cy="1200.5" r="7.45" fill="#e0552b" stroke="#c04827" stroke-width="0.9"/>
<circle cx="322.8" cy="1194" r="7.45" fill="#e5ad02" stroke="#c99806" stroke-width="0.9"/>
<circle cx="461.7" cy="1188.1" r="7.45" fill="#e5ad02" stroke="#c99806" stroke-width="0.9"/>
<circle cx="356.7" cy="1226.1" r="7.45" fill="#e5ad02" stroke="#c99806" stroke-width="0.9"/>
<circle cx="353.3" cy="1239.5" r="7.45" fill="#e0552b" stroke="#c04827" stroke-width="0.9"/>
<circle cx="306.4" cy="1263.6" r="7.45" fill="#e0552b" stroke="#c04827" stroke-width="0.9"/>
<circle cx="316.9" cy="1261.6" r="7.45" fill="#e0552b" stroke="#c04827" stroke-width="0.9"/>
<circle cx="335.7" cy="1260.7" r="7.45" fill="#383838" stroke="#282828" stroke-width="0.9"/>
<circle cx="391.7" cy="1276.3" r="7.45" fill="#383838" stroke="#282828" stroke-width="0.9"/>
<circle cx="422.6" cy="1312.2" r="7.45" fill="#e5ad02" stroke="#c99806" stroke-width="0.9"/>
<circle cx="422.6" cy="1322.4" r="7.45" fill="#e5ad02" stroke="#c99806" stroke-width="0.9"/>
<circle cx="373.3" cy="1326.6" r="7.45" fill="#e5ad02" stroke="#c99806" stroke-width="0.9"/>
<circle cx="499" cy="1322.1" r="7.45" fill="#e0552b" stroke="#c04827" stroke-width="0.9"/>
<circle cx="554.4" cy="1325.9" r="7.45" fill="#e5ad02" stroke="#c99806" stroke-width="0.9"/>
<circle cx="294.9" cy="1338.7" r="7.45" fill="#e0552b" stroke="#c04827" stroke-width="0.9"/>
<circle cx="319.2" cy="1333.9" r="7.45" fill="#8fc3b6" stroke="#78ab9e" stroke-width="0.9"/>
<circle cx="310.8" cy="1336.4" r="7.45" fill="#e0552b" stroke="#c04827" stroke-width="0.9"/>
<circle cx="310" cy="1334.8" r="7.45" fill="#e0552b" stroke="#c04827" stroke-width="0.9"/>
<circle cx="332.3" cy="1365.6" r="7.45" fill="#8fc3b6" stroke="#78ab9e" stroke-width="0.9"/>
<circle cx="324.4" cy="1354.5" r="7.45" fill="#e0552b" stroke="#c04827" stroke-width="0.9"/>
<circle cx="340.2" cy="1355.1" r="7.45" fill="#e0552b" stroke="#c04827" stroke-width="0.9"/>
<circle cx="334.3" cy="1378.8" r="7.45" fill="#e0552b" stroke="#c04827" stroke-width="0.9"/>
<circle cx="332.9" cy="1385.3" r="7.45" fill="#e0552b" stroke="#c04827" stroke-width="0.9"/>
<circle cx="312.6" cy="1384" r="7.45" fill="#e0552b" stroke="#c04827" stroke-width="0.9"/>
<circle cx="284.1" cy="1360.8" r="7.45" fill="#e0552b" stroke="#c04827" stroke-width="0.9"/>
<circle cx="251.3" cy="1367.2" r="7.45" fill="#383838" stroke="#282828" stroke-width="0.9"/>
<circle cx="214.4" cy="1378.8" r="7.45" fill="#e0552b" stroke="#c04827" stroke-width="0.9"/>
<circle cx="278.2" cy="1386.9" r="7.45" fill="#e5ad02" stroke="#c99806" stroke-width="0.9"/>
<circle cx="373.3" cy="1355.7" r="7.45" fill="#e5ad02" stroke="#c99806" stroke-width="0.9"/>
<circle cx="399.2" cy="1370" r="7.45" fill="#e5ad02" stroke="#c99806" stroke-width="0.9"/>
<circle cx="396" cy="1414.7" r="7.45" fill="#e0552b" stroke="#c04827" stroke-width="0.9"/>
<circle cx="429.3" cy="1458.4" r="7.45" fill="#383838" stroke="#282828" stroke-width="0.9"/>
<circle cx="284" cy="1457.5" r="7.45" fill="#e5ad02" stroke="#c99806" stroke-width="0.9"/>
<circle cx="337.8" cy="1547.3" r="7.45" fill="#e5ad02" stroke="#c99806" stroke-width="0.9"/>
<path d="M129.5 1147.4V1563.4H571.9" fill="none" stroke="#000" stroke-width="3" stroke-linejoin="miter" stroke-linecap="butt"/>
<line x1="123.5" y1="1232.4" x2="129.5" y2="1232.4" stroke="#000" stroke-width="3"/>
<text x="118.6" y="1239.6" font-size="24.7" text-anchor="end">- 8.0</text>
<line x1="123.5" y1="1320.8" x2="129.5" y2="1320.8" stroke="#000" stroke-width="3"/>
<text x="118.6" y="1328.0" font-size="24.7" text-anchor="end">- 8.2</text>
<line x1="123.5" y1="1409.2" x2="129.5" y2="1409.2" stroke="#000" stroke-width="3"/>
<text x="118.6" y="1416.4" font-size="24.7" text-anchor="end">- 8.4</text>
<line x1="123.5" y1="1497.6" x2="129.5" y2="1497.6" stroke="#000" stroke-width="3"/>
<text x="118.6" y="1504.8" font-size="24.7" text-anchor="end">- 8.6</text>
<line x1="192.4" y1="1563.4" x2="192.4" y2="1569.4" stroke="#000" stroke-width="3"/>
<text x="189.4" y="1595.5" font-size="24.7" text-anchor="middle">4.0</text>
<line x1="257.3" y1="1563.4" x2="257.3" y2="1569.4" stroke="#000" stroke-width="3"/>
<text x="259.0" y="1595.5" font-size="24.7" text-anchor="middle">4.5</text>
<line x1="321.9" y1="1563.4" x2="321.9" y2="1569.4" stroke="#000" stroke-width="3"/>
<text x="324.9" y="1595.5" font-size="24.7" text-anchor="middle">5.0</text>
<line x1="386.8" y1="1563.4" x2="386.8" y2="1569.4" stroke="#000" stroke-width="3"/>
<text x="387.5" y="1595.5" font-size="24.7" text-anchor="middle">5.5</text>
<line x1="451.6" y1="1563.4" x2="451.6" y2="1569.4" stroke="#000" stroke-width="3"/>
<text x="454.5" y="1595.5" font-size="24.7" text-anchor="middle">6.0</text>
<line x1="516" y1="1563.4" x2="516" y2="1569.4" stroke="#000" stroke-width="3"/>
<text x="517.9" y="1595.5" font-size="24.7" text-anchor="middle">6.5</text>
<text x="230.3" y="1630.6" font-size="29" letter-spacing="0.12">Harmonic mean N<tspan font-size="17" dx="1.2" dy="9.6">e</tspan></text>
<text x="177.0" y="1660.1" font-size="29">with pedigree mutation rate</text>
<text x="225.2" y="1696.3" font-size="29" letter-spacing="0.17">(30,000 to 130,000)</text>
<text transform="translate(26.9,1346.75) rotate(-90)" font-size="29" text-anchor="middle">Mutation rate per site</text>
<text transform="translate(54.4,1346.9) rotate(-90)" font-size="29" text-anchor="middle">per generation (10<tspan font-size="15" dy="-8.5">-8</tspan><tspan dy="8.5">) (log</tspan><tspan font-size="14" dx="3.5" dy="8.5">10</tspan><tspan dx="2" dy="-8.5">)</tspan></text>
<text x="426.8" y="1244.3" font-size="25.2"><tspan font-style="italic" dy="-3.6">r</tspan><tspan font-size="13.2" font-weight="bold" dx="-0.2" dy="-8.6">2</tspan><tspan dx="1.0" dy="12.2"> = 0.04</tspan></text>
<text x="425.6" y="1279.3" font-size="25.2">p = 0.080</text>
<text x="13.1" y="1156.3" font-size="37.5" font-weight="bold">e.</text>
<circle cx="1229.6" cy="36" r="6.6" fill="#e0552b"/>
<text x="1245.5" y="41" font-size="29">Mammals</text>
<circle cx="1229.6" cy="64.2" r="6.6" fill="#e5ad02"/>
<text x="1245.5" y="71.6" font-size="29">Birds</text>
<circle cx="1229.6" cy="93" r="6.6" fill="#383838"/>
<text x="1245.5" y="102" font-size="29">Fishes</text>
<circle cx="1229.6" cy="122" r="6.6" fill="#8fc3b6"/>
<text x="1245.5" y="132.2" font-size="29">Reptiles</text>
</svg></body></html>
